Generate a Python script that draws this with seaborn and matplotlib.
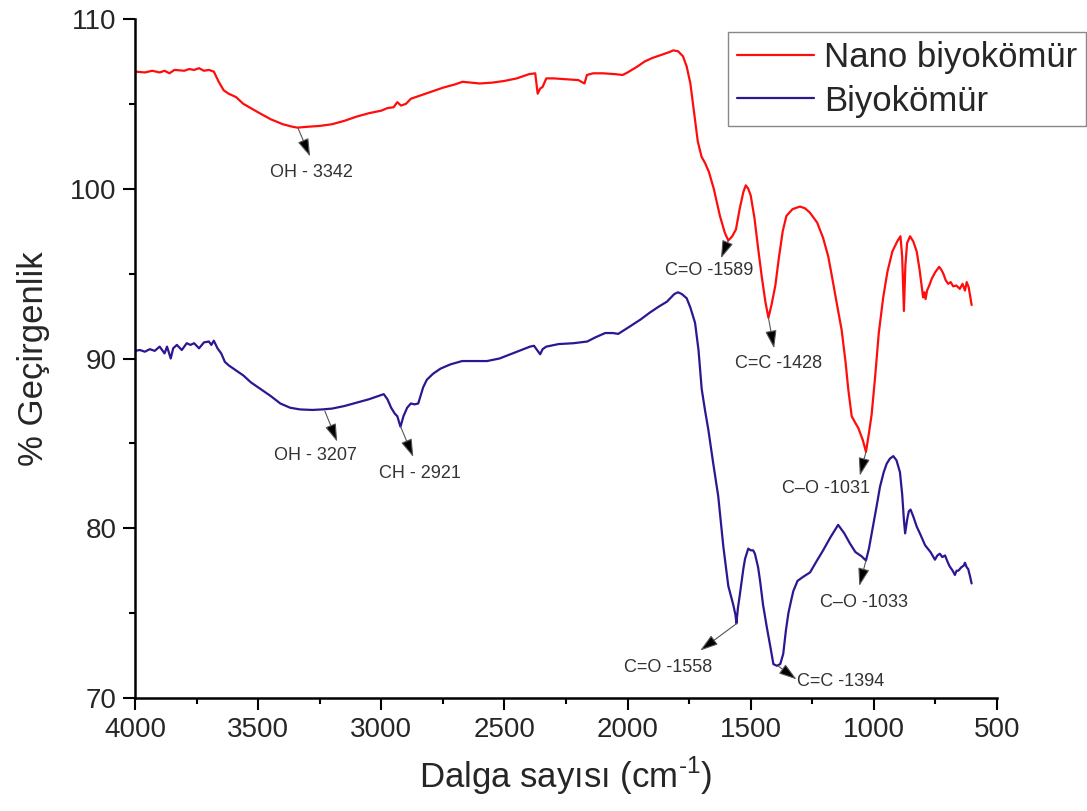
import matplotlib
import matplotlib.pyplot as plt
import pandas as pd
import seaborn as sns
from matplotlib.ticker import MultipleLocator

matplotlib.use('Agg')

# Nano biyokömür (red) - wavenumber / transmittance
nano_x = [4000, 3960, 3930, 3900, 3880, 3860, 3840, 3800, 3780, 3760, 3740, 3720, 3700,
          3680, 3660, 3640, 3620, 3590, 3560, 3530, 3500, 3450, 3400, 3360, 3340, 3300,
          3250, 3200, 3150, 3100, 3050, 3000, 2975, 2950, 2935, 2920, 2900, 2880, 2860,
          2800, 2750, 2700, 2670, 2600, 2550, 2500, 2450, 2400, 2375, 2365, 2355, 2345,
          2330, 2300, 2250, 2200, 2175, 2165, 2140, 2100, 2050, 2020, 2000, 1960, 1930,
          1900, 1860, 1830, 1815, 1795, 1775, 1760, 1745, 1730, 1715, 1700, 1685, 1670,
          1650, 1625, 1605, 1591, 1575, 1560, 1545, 1530, 1520, 1510, 1500, 1485, 1470,
          1455, 1440, 1428, 1415, 1400, 1385, 1370, 1355, 1330, 1300, 1280, 1260, 1230,
          1206, 1185, 1166, 1150, 1131, 1115, 1104, 1090, 1075, 1063, 1045, 1032, 1020,
          1009, 995, 980, 962, 945, 925, 905, 892, 885, 878, 872, 865, 853, 840, 826, 815,
          806, 800, 795, 790, 784, 775, 765, 750, 735, 725, 718, 708, 698, 688, 678, 665,
          651, 640, 630, 623, 615, 608, 603]
nano_y = [106.9, 106.85, 106.95, 106.85, 106.95, 106.8, 107.0, 106.95, 107.05, 107.0,
          107.1, 106.95, 107.0, 106.9, 106.3, 105.8, 105.6, 105.4, 105.0, 104.75, 104.5,
          104.1, 103.8, 103.65, 103.6, 103.65, 103.7, 103.8, 104.0, 104.25, 104.45, 104.6,
          104.75, 104.8, 105.1, 104.9, 105.0, 105.3, 105.4, 105.7, 105.95, 106.15, 106.3,
          106.2, 106.25, 106.35, 106.5, 106.75, 106.8, 105.6, 105.9, 106.0, 106.5, 106.5,
          106.45, 106.4, 106.2, 106.7, 106.8, 106.8, 106.75, 106.7, 106.85, 107.2, 107.5,
          107.7, 107.9, 108.05, 108.15, 108.1, 107.8, 107.2, 106.2, 104.5, 102.8, 101.9,
          101.5, 101.0, 100.0, 98.4, 97.4, 96.95, 97.2, 97.6, 98.8, 99.8, 100.2, 100.0,
          99.6, 98.3, 96.5, 94.8, 93.3, 92.4, 93.2, 94.3, 96.0, 97.5, 98.4, 98.8, 98.95,
          98.85, 98.6, 98.0, 97.1, 96.0, 94.5, 93.2, 91.7, 89.8, 88.2, 86.6, 86.2, 85.9,
          85.2, 84.5, 85.6, 86.7, 88.9, 91.5, 93.6, 95.1, 96.3, 96.9, 97.2, 96.0, 92.8,
          95.5, 96.8, 97.2, 96.9, 96.3, 95.3, 94.3, 93.6, 93.9, 93.5, 94.0, 94.3, 94.7,
          95.1, 95.4, 95.2, 95.0, 94.6, 94.4, 94.5, 94.25, 94.3, 94.1, 94.4, 94.0, 94.5,
          94.2, 93.6, 93.15]

# Biyokömür (indigo)
bio_x = [4000, 3980, 3960, 3940, 3920, 3900, 3880, 3870, 3855, 3845, 3830, 3810, 3790,
         3775, 3760, 3740, 3720, 3700, 3690, 3680, 3665, 3650, 3635, 3620, 3600, 3580,
         3560, 3530, 3500, 3450, 3410, 3370, 3330, 3280, 3240, 3200, 3150, 3100, 3050,
         3010, 2990, 2975, 2960, 2945, 2935, 2922, 2910, 2895, 2880, 2865, 2850, 2830,
         2815, 2790, 2760, 2720, 2672, 2620, 2571, 2520, 2483, 2440, 2396, 2380, 2365,
         2355, 2345, 2330, 2280, 2220, 2164, 2130, 2091, 2060, 2038, 2000, 1947, 1910,
         1874, 1840, 1810, 1795, 1780, 1760, 1745, 1726, 1712, 1699, 1685, 1672, 1652,
         1632, 1611, 1591, 1571, 1562, 1558, 1552, 1544, 1530, 1523, 1510, 1500, 1490,
         1483, 1470, 1462, 1450, 1435, 1420, 1408, 1394, 1380, 1368, 1357, 1347, 1335,
         1327, 1310, 1286, 1259, 1235, 1206, 1175, 1145, 1120, 1097, 1075, 1050, 1032,
         1020, 1009, 990, 975, 960, 948, 935, 921, 908, 894, 885, 878, 873, 865, 858, 851,
         840, 826, 810, 792, 770, 752, 742, 732, 722, 711, 700, 692, 680, 671, 664, 657,
         645, 635, 630, 623, 617, 610, 603]
bio_y = [90.45, 90.5, 90.4, 90.55, 90.45, 90.7, 90.3, 90.7, 90.0, 90.6, 90.8, 90.5, 90.9,
         90.8, 90.9, 90.6, 90.95, 91.0, 90.8, 91.05, 90.6, 90.3, 89.8, 89.6, 89.4, 89.2,
         89.0, 88.6, 88.3, 87.8, 87.35, 87.1, 87.0, 86.97, 87.0, 87.05, 87.2, 87.4, 87.6,
         87.8, 87.9, 87.6, 87.1, 86.75, 86.6, 85.98, 86.6, 87.1, 87.35, 87.3, 87.35, 88.3,
         88.75, 89.1, 89.4, 89.65, 89.85, 89.85, 89.85, 90.0, 90.2, 90.45, 90.7, 90.75,
         90.45, 90.25, 90.55, 90.7, 90.85, 90.9, 91.0, 91.25, 91.5, 91.5, 91.45, 91.8,
         92.3, 92.7, 93.05, 93.35, 93.8, 93.9, 93.8, 93.55, 93.0, 92.1, 90.5, 88.2, 86.9,
         85.8, 83.8, 81.9, 78.9, 76.6, 75.5, 74.9, 74.4, 75.3, 76.1, 77.6, 78.2, 78.8,
         78.7, 78.7, 78.5, 77.7, 76.9, 75.5, 74.2, 73.0, 72.0, 71.9, 72.0, 72.6, 74.0,
         75.0, 75.8, 76.3, 76.9, 77.15, 77.4, 78.0, 78.7, 79.5, 80.2, 79.7, 79.1, 78.6,
         78.35, 78.1, 78.8, 79.7, 81.2, 82.45, 83.3, 83.8, 84.1, 84.25, 84.0, 83.3, 82.0,
         80.5, 79.7, 80.5, 81.0, 81.1, 80.7, 80.1, 79.6, 79.0, 78.6, 78.15, 78.4, 78.5,
         78.3, 78.4, 78.0, 77.75, 77.5, 77.25, 77.5, 77.5, 77.7, 77.8, 77.97, 77.7, 77.6,
         77.2, 76.75]

# peak labels: text, peak point, arrow tip, text centre
peak_labels = ['OH - 3342', 'OH - 3207', 'CH - 2921', 'C=O -1589', 'C=C -1428',
               'C\u2013O -1031', 'C\u2013O -1033', 'C=O -1558', 'C=C -1394']
peak_xy = [(3339, 103.6), (3229, 86.9), (2922, 86.0), (1591, 96.95), (1428, 92.4),
           (1032, 84.5), (1032, 78.1), (1556, 74.4), (1390, 71.9)]
arrow_tip = [(3289, 101.9), (3179, 85.1), (2870, 84.2), (1621, 95.9), (1405, 90.6),
             (1057, 83.1), (1059, 76.6), (1705, 72.8), (1314, 71.1)]
text_xy = [(3285, 100.95), (3267, 84.3), (2845, 83.2), (1670, 95.2), (1385, 89.7),
           (1195, 82.35), (1041, 75.65), (1835, 71.8), (1134, 71.0)]

nano_df = pd.DataFrame({'x': nano_x, 'y': nano_y})
bio_df = pd.DataFrame({'x': bio_x, 'y': bio_y})

sns.set_style('ticks')
plt.rcParams['font.family'] = ['Liberation Sans', 'DejaVu Sans']
plt.rcParams['mathtext.fontset'] = 'custom'
plt.rcParams['mathtext.rm'] = 'Liberation Sans'

fig = plt.figure(figsize=(10.87, 8.11), dpi=100)
ax = fig.add_axes([0.1242, 0.1393, 0.7930, 0.8373])

sns.lineplot(data=nano_df, x='x', y='y', ax=ax, color='#ff0d0d', lw=1.6,
             label='Nano biyokömür')
sns.lineplot(data=bio_df, x='x', y='y', ax=ax, color='#2f1591', lw=1.6,
             label='Biyokömür')

for lab, p, t, c in zip(peak_labels, peak_xy, arrow_tip, text_xy):
    ax.annotate('', xy=t, xytext=p,
                arrowprops=dict(arrowstyle='-|>,head_length=1.1,head_width=0.35',
                                fc='black', ec='#555555', lw=0.8,
                                shrinkA=0, shrinkB=0, mutation_scale=10))
    ax.text(c[0], c[1], lab, fontsize=13, color='#333333',
            ha='center', va='center')

ax.set_xlim(4000, 500)
ax.set_ylim(70, 110)
ax.xaxis.set_major_locator(MultipleLocator(500))
ax.xaxis.set_minor_locator(MultipleLocator(250))
ax.yaxis.set_major_locator(MultipleLocator(10))
ax.yaxis.set_minor_locator(MultipleLocator(5))

for side in ['top', 'right']:
    ax.spines[side].set_visible(False)
for side in ['left', 'bottom']:
    ax.spines[side].set_linewidth(1.8)
    ax.spines[side].set_color('black')
ax.tick_params(which='major', length=8.5, width=1.5, labelsize=20, pad=5,
               direction='out', color='black')
ax.tick_params(which='minor', length=4.5, width=1.5, direction='out', color='black')

ax.set_xlabel(r'Dalga sayısı (cm$^{\mathrm{\text{-}1}}$)', fontsize=25, labelpad=9)
ax.set_ylabel('% Geçirgenlik', fontsize=25, labelpad=14)

ax.legend(loc='upper right', bbox_to_anchor=(0.999, 0.96),
          bbox_transform=fig.transFigure, fontsize=25, frameon=True,
          fancybox=False, edgecolor='#888888', framealpha=1,
          handlelength=2.2, handletextpad=0.3, borderpad=0.25,
          labelspacing=0.3, borderaxespad=0)
ax.get_legend().get_frame().set_linewidth(1.0)

fig.savefig('out.png', dpi=100)
